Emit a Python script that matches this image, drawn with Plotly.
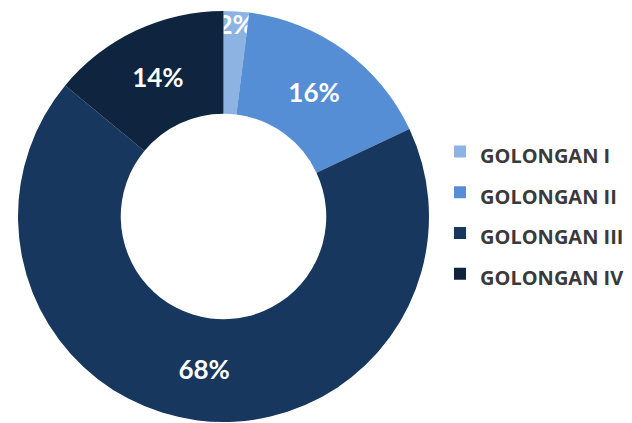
import plotly.graph_objects as go

labels = ["GOLONGAN I", "GOLONGAN II", "GOLONGAN III", "GOLONGAN IV"]
values = [2, 16, 68, 14]
colors = ["#8DB3E2", "#558ED5", "#17375E", "#0F243E"]

W, H = 632, 423
LEGEND_TEXT_SIZE = 20
legend_labels = [
    f"<span style='font-size:{LEGEND_TEXT_SIZE}px'>{lab}</span>" for lab in labels
]

fig = go.Figure(
    go.Pie(
        labels=legend_labels,
        values=values,
        marker=dict(colors=colors, line=dict(width=0)),
        hole=0.5,
        sort=False,
        direction="clockwise",
        rotation=0,
        texttemplate="%{percent:.0%}",
        textposition="inside",
        insidetextorientation="horizontal",
        textfont=dict(family="Lato", size=26, color="white", weight="bold"),
        domain=dict(x=[16 / W, 431 / W], y=[1 / H, 412 / H]),
        hoverinfo="label+percent",
    )
)

fig.update_layout(
    width=W,
    height=H,
    margin=dict(l=0, r=0, t=0, b=0),
    paper_bgcolor="white",
    plot_bgcolor="white",
    uniformtext=dict(minsize=26, mode="show"),
    legend=dict(
        x=440 / W,
        xanchor="left",
        y=0.497,
        yanchor="middle",
        font=dict(family="Open Sans", size=29, color="#3a3a3a", weight="bold"),
        bgcolor="rgba(0,0,0,0)",
    ),
    showlegend=True,
)

fig.write_html("out.html")
